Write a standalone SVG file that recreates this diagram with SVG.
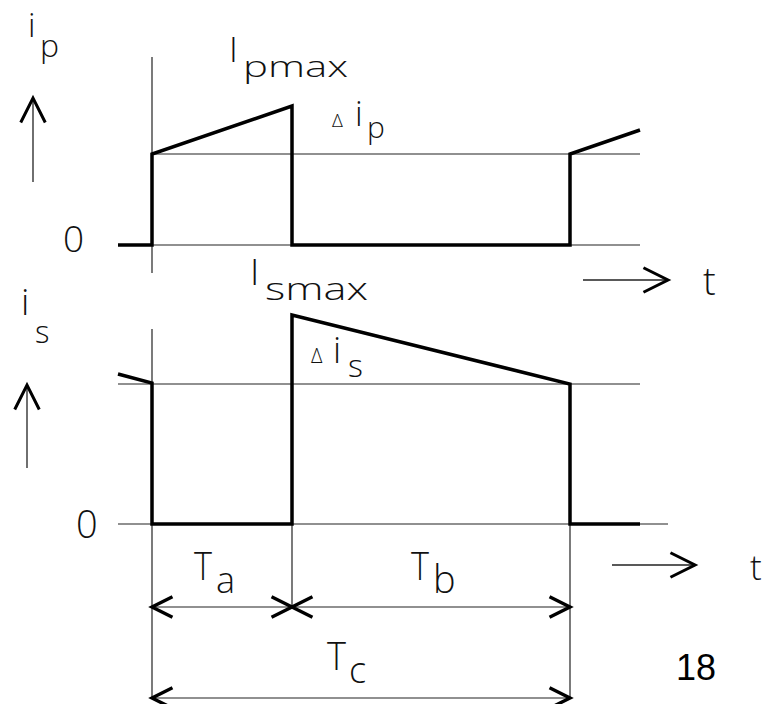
<svg xmlns="http://www.w3.org/2000/svg" width="770" height="704" viewBox="0 0 770 704">
  <style>
    .thin { stroke: #222; stroke-width: 1.2; fill: none; }
    .wave { stroke: #000; stroke-width: 3.5; fill: none; stroke-linejoin: miter; }
    .ax { stroke: #222; stroke-width: 1.3; fill: none; marker-end: url(#axArrow); }
    .dim { stroke: #222; stroke-width: 1.2; fill: none; marker-start: url(#dimArrow); marker-end: url(#dimArrow); }
    text { font-family: "Open Sans", "Liberation Sans", Arial, sans-serif; font-weight: 300; fill: #111; }
    .num { font-family: "Liberation Sans", Arial, sans-serif; font-weight: 400; fill: #000; }
  </style>
  <defs>
    <marker id="axArrow" markerUnits="userSpaceOnUse" markerWidth="30" markerHeight="30" viewBox="-20 -10 22 20" refX="0" refY="0" orient="auto" overflow="visible">
      <path d="M-18,-9 L0,0 L-18,9" fill="none" stroke="#000" stroke-width="2.2"/>
    </marker>
    <marker id="dimArrow" markerUnits="userSpaceOnUse" markerWidth="30" markerHeight="30" viewBox="-20 -10 22 20" refX="0" refY="0" orient="auto-start-reverse" overflow="visible">
      <path d="M-15,-7.5 L0,0 L-15,7.5" fill="none" stroke="#000" stroke-width="2.5"/>
    </marker>
  </defs>

  <rect x="0" y="0" width="770" height="704" fill="#fff"/>

  <g id="primary-plot">
    <line class="thin" x1="152" y1="57" x2="152" y2="273"/>
    <line class="thin" x1="118" y1="245" x2="640" y2="245"/>
    <line class="thin" x1="152" y1="154" x2="640" y2="154"/>
    <path class="wave" d="M118,245 H152 V154 L292,106 V245 H570 V154 L640,130"/>
    <line class="ax" x1="33" y1="182" x2="33" y2="98"/>
    <line class="ax" x1="583" y1="280" x2="668" y2="280"/>
    <text x="28" y="37" font-size="33">i</text>
    <text x="40" y="57" font-size="32">p</text>
    <text x="229" y="62" font-size="35">I</text>
    <text x="243" y="77" font-size="29" textLength="105" lengthAdjust="spacingAndGlyphs">pmax</text>
    <text x="332" y="127" font-size="19">Δ</text>
    <text x="355" y="126" font-size="34">i</text>
    <text x="367" y="138" font-size="30">p</text>
    <text x="63" y="252" font-size="37">0</text>
    <text x="703" y="295" font-size="38">t</text>
  </g>

  <g id="secondary-plot">
    <line class="thin" x1="152" y1="329" x2="152" y2="698"/>
    <line class="thin" x1="118" y1="524" x2="668" y2="524"/>
    <line class="thin" x1="118" y1="384" x2="640" y2="384"/>
    <line class="thin" x1="292" y1="524" x2="292" y2="607"/>
    <line class="thin" x1="570" y1="524" x2="570" y2="698"/>
    <path class="wave" d="M118,374 L152,383 V524 H292 V315 L570,384 V524 H640"/>
    <line class="ax" x1="27" y1="468" x2="27" y2="385"/>
    <line class="ax" x1="612" y1="565" x2="695" y2="565"/>
    <text x="21" y="315" font-size="37">i</text>
    <text x="35" y="343" font-size="31">s</text>
    <text x="250" y="285" font-size="37">I</text>
    <text x="265" y="300" font-size="32" textLength="103" lengthAdjust="spacingAndGlyphs">smax</text>
    <text x="311" y="363" font-size="20">Δ</text>
    <text x="333" y="363" font-size="36">i</text>
    <text x="348" y="377" font-size="32">s</text>
    <text x="76" y="538" font-size="38">0</text>
    <text x="750" y="580" font-size="35">t</text>
  </g>

  <g id="dimensions">
    <line class="dim" x1="152" y1="607" x2="292" y2="607"/>
    <line class="dim" x1="292" y1="607" x2="570" y2="607"/>
    <line class="dim" x1="152" y1="698" x2="570" y2="698"/>
    <text x="194" y="580" font-size="38" textLength="18" lengthAdjust="spacingAndGlyphs">T</text>
    <text x="216" y="593" font-size="36">a</text>
    <text x="411" y="580" font-size="38" textLength="18" lengthAdjust="spacingAndGlyphs">T</text>
    <text x="433" y="593" font-size="38">b</text>
    <text x="327" y="670" font-size="38" textLength="19" lengthAdjust="spacingAndGlyphs">T</text>
    <text x="349" y="683" font-size="36">c</text>
  </g>

  <text class="num" x="676" y="680" font-size="36">18</text>
</svg>
